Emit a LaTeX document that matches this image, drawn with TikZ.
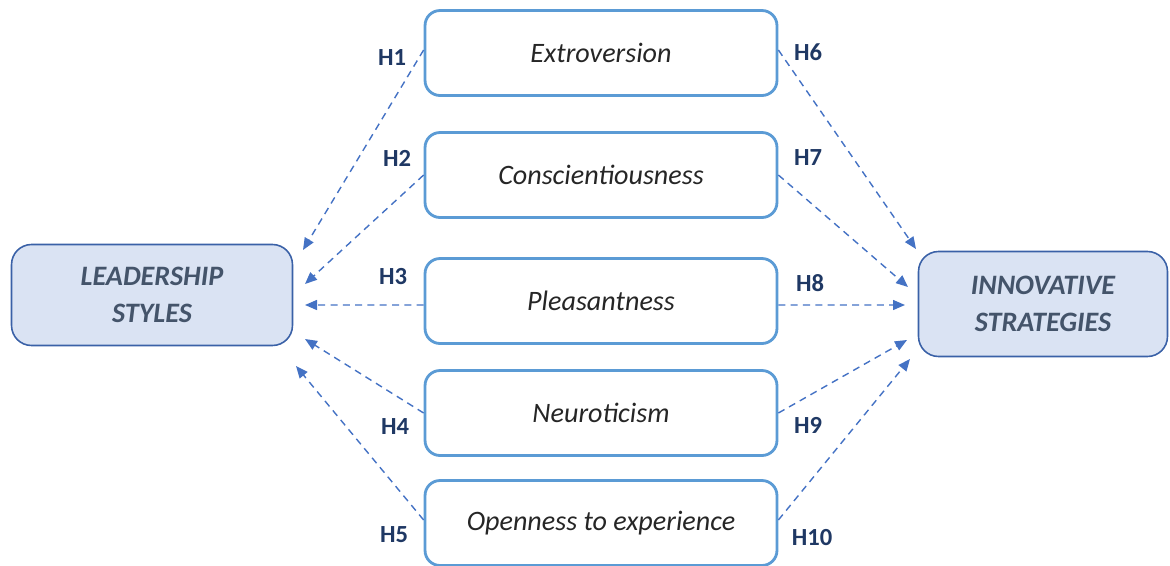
\documentclass[tikz,border=0pt]{standalone}
\usepackage{fontspec}
\setmainfont{Carlito}
\usetikzlibrary{arrows.meta}
\definecolor{boxblue}{HTML}{5B9BD5}
\definecolor{edgeblue}{HTML}{4472C4}
\definecolor{fillblue}{HTML}{DAE3F3}
\definecolor{slate}{HTML}{44546A}
\definecolor{navy}{HTML}{1F3864}
\begin{document}
\begin{tikzpicture}[x=0.02cm, y=-0.02cm, font=\fontsize{16}{19}\selectfont,
  trait/.style={draw=boxblue,line width=1.6pt,rounded corners=0.3cm,fill=white,minimum width=7.04cm,minimum height=1.7cm,text=black!85,font=\fontsize{16}{19}\selectfont\itshape},
  outer/.style={draw=edgeblue!85!black,line width=0.9pt,rounded corners=0.4cm,fill=fillblue,align=center,text=slate,font=\fontsize{16}{21}\selectfont\itshape\bfseries},
  hyp/.style={text=navy,font=\fontsize{14}{16}\selectfont\bfseries},
  link/.style={draw=edgeblue,dashed,line width=0.8pt,dash pattern=on 4pt off 3pt,-{Triangle[length=0.24cm,width=0.2cm]}}]
\useasboundingbox (0,0) rectangle (1170,565);
% outer constructs
\node[outer,minimum width=5.62cm,minimum height=2.02cm] (lead) at (152,295) {LEADERSHIP\\STYLES};
\node[outer,minimum width=4.98cm,minimum height=2.1cm] (innov) at (1043,304) {INNOVATIVE\\STRATEGIES};
% personality traits
\node[trait] (ext) at (601,53) {Extroversion};
\node[trait] (con) at (601,175) {Conscientiousness};
\node[trait] (ple) at (601,301) {Pleasantness};
\node[trait] (neu) at (601,413) {Neuroticism};
\node[trait] (ope) at (601,523) {Openness to experience};
% arrow ends
\coordinate (l1) at (303,250); \coordinate (l2) at (305,284);
\coordinate (l3) at (305,305); \coordinate (l4) at (305,339);
\coordinate (l5) at (296,366);
\coordinate (r1) at (916,249); \coordinate (r2) at (908,287);
\coordinate (r3) at (905,305); \coordinate (r4) at (907,340);
\coordinate (r5) at (910,359);
% trait -> leadership
\draw[link] ([yshift=0.06cm]ext.west) -- (l1);
\draw[link] (con.west) -- (l2);
\draw[link] ([yshift=-0.08cm]ple.west) -- (l3);
\draw[link] (neu.west) -- (l4);
\draw[link] ([yshift=0.06cm]ope.west) -- (l5);
% trait -> innovation
\draw[link] ([yshift=0.06cm]ext.east) -- (r1);
\draw[link] (con.east) -- (r2);
\draw[link] ([yshift=-0.08cm]ple.east) -- (r3);
\draw[link] (neu.east) -- (r4);
\draw[link] ([yshift=0.06cm]ope.east) -- (r5);
% hypothesis labels
\node[hyp] (h1) at (392,58) {H1};
\node[hyp] (h2) at (397,158) {H2};
\node[hyp] (h3) at (393,277) {H3};
\node[hyp] (h4) at (395,427) {H4};
\node[hyp] (h5) at (394,535) {H5};
\node[hyp] (h6) at (808,52) {H6};
\node[hyp] (h7) at (808,158) {H7};
\node[hyp] (h8) at (810,283) {H8};
\node[hyp] (h9) at (808,425) {H9};
\node[hyp] (h10) at (812,538) {H10};
\end{tikzpicture}
\end{document}
